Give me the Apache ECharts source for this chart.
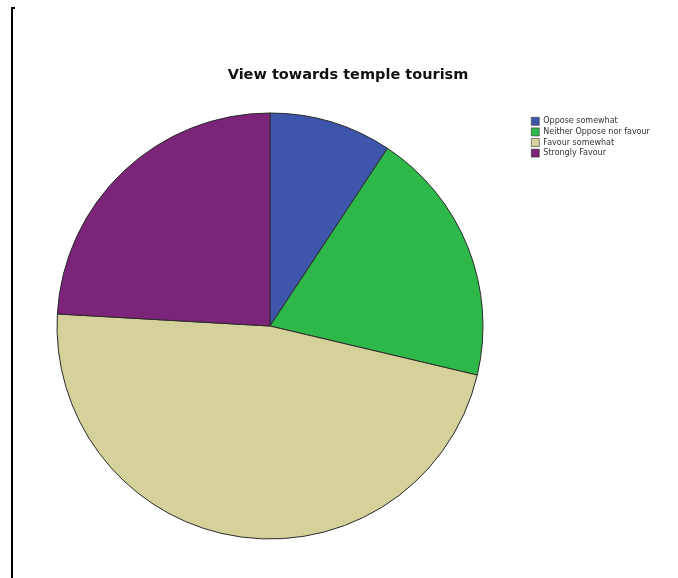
<!DOCTYPE html>
<html><head><meta charset="utf-8">
<script src="https://cdn.jsdelivr.net/npm/echarts@6/dist/echarts.min.js"></script>
<style>html,body{margin:0;padding:0;background:#fff}#c{width:678px;height:578px}</style>
</head><body><div id="c"></div>
<script>
const categories = ['Oppose somewhat', 'Neither Oppose nor favour', 'Favour somewhat', 'Strongly Favour'];
const values = [9.3, 19.4, 47.2, 24.1];
const colors = ['#3d56ab', '#2fb84a', '#d5d19b', '#7c2479'];

const chart = echarts.init(document.getElementById('c'), null, {renderer: 'canvas'});
chart.setOption({
  backgroundColor: '#fff',
  animation: false,
  title: {
    text: 'View towards temple tourism',
    left: 343, top: 63, textAlign: 'center',
    textStyle: {fontFamily: 'DejaVu Sans', fontSize: 14.5, fontWeight: 'bold', color: '#111'}
  },
  legend: {
    orient: 'vertical', left: 526, top: 112,
    itemWidth: 8, itemHeight: 8, itemGap: 2,
    icon: 'rect',
    itemStyle: {borderColor: '#333', borderWidth: 0.6},
    textStyle: {fontFamily: 'DejaVu Sans', fontSize: 8, color: '#333', padding: [0,0,0,-1]},
    data: categories
  },
  graphic: [
    {type: 'polyline', shape: {points: [[15, 8], [12, 8], [12, 578]]}, style: {stroke: '#000', lineWidth: 2, fill: null}}
  ],
  series: [{
    type: 'pie',
    center: [270, 326],
    radius: 213,
    startAngle: 90,
    clockwise: true,
    label: {show: false},
    labelLine: {show: false},
    emphasis: {disabled: true},
    itemStyle: {borderColor: '#2a2a2a', borderWidth: 1},
    data: categories.map((n, i) => ({name: n, value: values[i], itemStyle: {color: colors[i]}}))
  }]
});
</script></body></html>
